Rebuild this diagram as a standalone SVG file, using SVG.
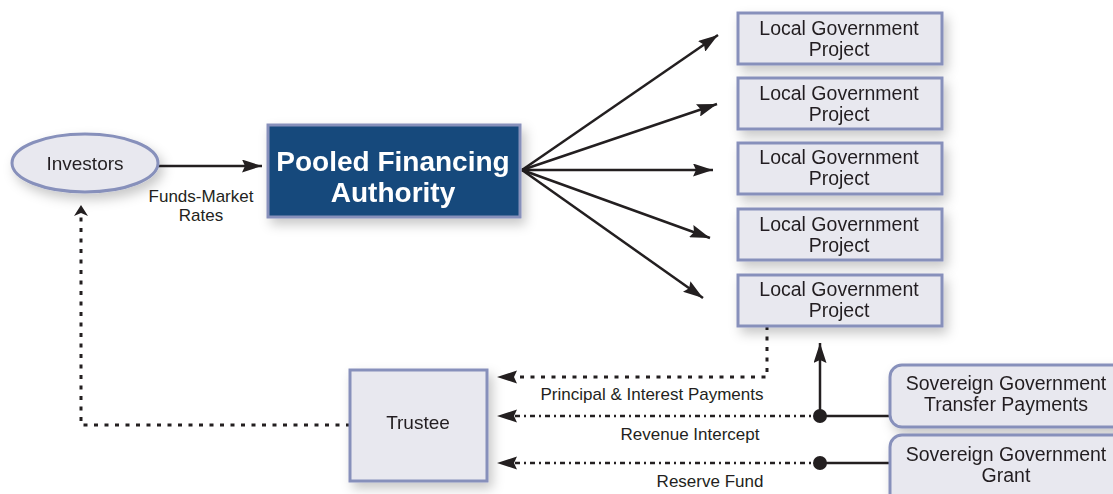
<svg xmlns="http://www.w3.org/2000/svg" width="1113" height="494" viewBox="0 0 1113 494">
<style>
.box{fill:#e8e8ef;stroke:#8790bb;stroke-width:3}
.t{font-family:"Liberation Sans",Arial,sans-serif;fill:#231f20;text-anchor:middle}
.n{font-size:19px}
.w{font-size:19.5px}
.l{font-size:17px}
.solid{stroke:#231f20;stroke-width:2.5;fill:none}
.dot{stroke:#231f20;stroke-width:3;fill:none;stroke-dasharray:4 6.5}
.dd{stroke:#231f20;stroke-width:2.5;fill:none;stroke-dasharray:5 4 2 4}
</style>
<defs>
<filter id="sh" x="-20%" y="-20%" width="150%" height="160%">
<feDropShadow dx="4" dy="6" stdDeviation="6" flood-color="#000" flood-opacity="0.22"/>
</filter>
<marker id="ahb" markerWidth="22" markerHeight="13" refX="20" refY="6.5" orient="auto" markerUnits="userSpaceOnUse" viewBox="0 0 22 13">
<path d="M0,0 L20,6.5 L0,13 L3,6.5 Z" fill="#231f20"/>
</marker>
</defs>

<g id="connectors">
<line class="solid" x1="158" y1="166" x2="262" y2="166" marker-end="url(#ahb)"/>
<line class="solid" x1="522" y1="170" x2="718" y2="35" marker-end="url(#ahb)"/>
<line class="solid" x1="522" y1="170" x2="717" y2="104" marker-end="url(#ahb)"/>
<line class="solid" x1="522" y1="170" x2="713" y2="170" marker-end="url(#ahb)"/>
<line class="solid" x1="522" y1="170" x2="710" y2="238" marker-end="url(#ahb)"/>
<line class="solid" x1="522" y1="170" x2="703" y2="298" marker-end="url(#ahb)"/>
<polyline class="dot" points="350,425 81,425 81,215"/>
<path d="M74,216 L81,205 L88,216 L81,213 Z" fill="#231f20"/>
<polyline class="dot" points="767,326 767,377 512,377"/>
<path d="M497,377 L517,370.5 L514,377 L517,383.5 Z" fill="#231f20"/>
<line class="dd" x1="820" y1="416" x2="512" y2="416"/>
<path d="M497,416 L517,409.5 L514,416 L517,422.5 Z" fill="#231f20"/>
<line class="dd" x1="820" y1="463" x2="512" y2="463"/>
<path d="M497,463 L517,456.5 L514,463 L517,469.5 Z" fill="#231f20"/>
<line class="solid" x1="820" y1="416" x2="890" y2="416"/>
<line class="solid" x1="820" y1="463" x2="890" y2="463"/>
<line class="solid" x1="820" y1="416" x2="820" y2="343" marker-end="url(#ahb)"/>
<circle cx="820" cy="416" r="7" fill="#231f20"/>
<circle cx="820" cy="463" r="7" fill="#231f20"/>
<text class="t l" x="201" y="202">Funds-Market</text>
<text class="t l" x="201" y="221">Rates</text>
<text class="t l" x="652" y="400">Principal &amp; Interest Payments</text>
<text class="t l" x="690" y="440">Revenue Intercept</text>
<text class="t l" x="710" y="487">Reserve Fund</text>
</g>

<g id="investors" filter="url(#sh)">
<ellipse cx="85" cy="163" rx="73" ry="29" class="box"/>
<text class="t n" x="85" y="170">Investors</text>
</g>

<g id="pfa" filter="url(#sh)">
<rect x="268" y="125" width="252" height="92" fill="#174a7c" stroke="#8790bb" stroke-width="3"/>
<text x="393" y="171" font-family="'Liberation Sans',Arial,sans-serif" font-weight="bold" font-size="28" fill="#fff" text-anchor="middle">Pooled Financing</text>
<text x="393" y="202" font-family="'Liberation Sans',Arial,sans-serif" font-weight="bold" font-size="28" fill="#fff" text-anchor="middle">Authority</text>
</g>

<g id="lgp1" filter="url(#sh)">
<rect class="box" x="738" y="13" width="204" height="51"/>
<text class="t w" x="839" y="35">Local Government</text>
<text class="t w" x="839" y="56">Project</text>
</g>
<g id="lgp2" filter="url(#sh)">
<rect class="box" x="738" y="78" width="204" height="51"/>
<text class="t w" x="839" y="100">Local Government</text>
<text class="t w" x="839" y="121">Project</text>
</g>
<g id="lgp3" filter="url(#sh)">
<rect class="box" x="738" y="143" width="204" height="51"/>
<text class="t w" x="839" y="164">Local Government</text>
<text class="t w" x="839" y="185">Project</text>
</g>
<g id="lgp4" filter="url(#sh)">
<rect class="box" x="738" y="209" width="204" height="51"/>
<text class="t w" x="839" y="231">Local Government</text>
<text class="t w" x="839" y="252">Project</text>
</g>
<g id="lgp5" filter="url(#sh)">
<rect class="box" x="738" y="275" width="204" height="51"/>
<text class="t w" x="839" y="296">Local Government</text>
<text class="t w" x="839" y="317">Project</text>
</g>

<g id="trustee" filter="url(#sh)">
<rect class="box" x="350" y="370" width="137" height="111"/>
<text class="t n" x="418" y="429">Trustee</text>
</g>

<g id="sov-transfer" filter="url(#sh)">
<rect class="box" x="890" y="365" width="240" height="62" rx="12"/>
<text class="t w" x="1006" y="390">Sovereign Government</text>
<text class="t w" x="1006" y="411">Transfer Payments</text>
</g>
<g id="sov-grant" filter="url(#sh)">
<rect class="box" x="890" y="435" width="240" height="80" rx="12"/>
<text class="t w" x="1006" y="461">Sovereign Government</text>
<text class="t w" x="1006" y="482">Grant</text>
</g>
</svg>
